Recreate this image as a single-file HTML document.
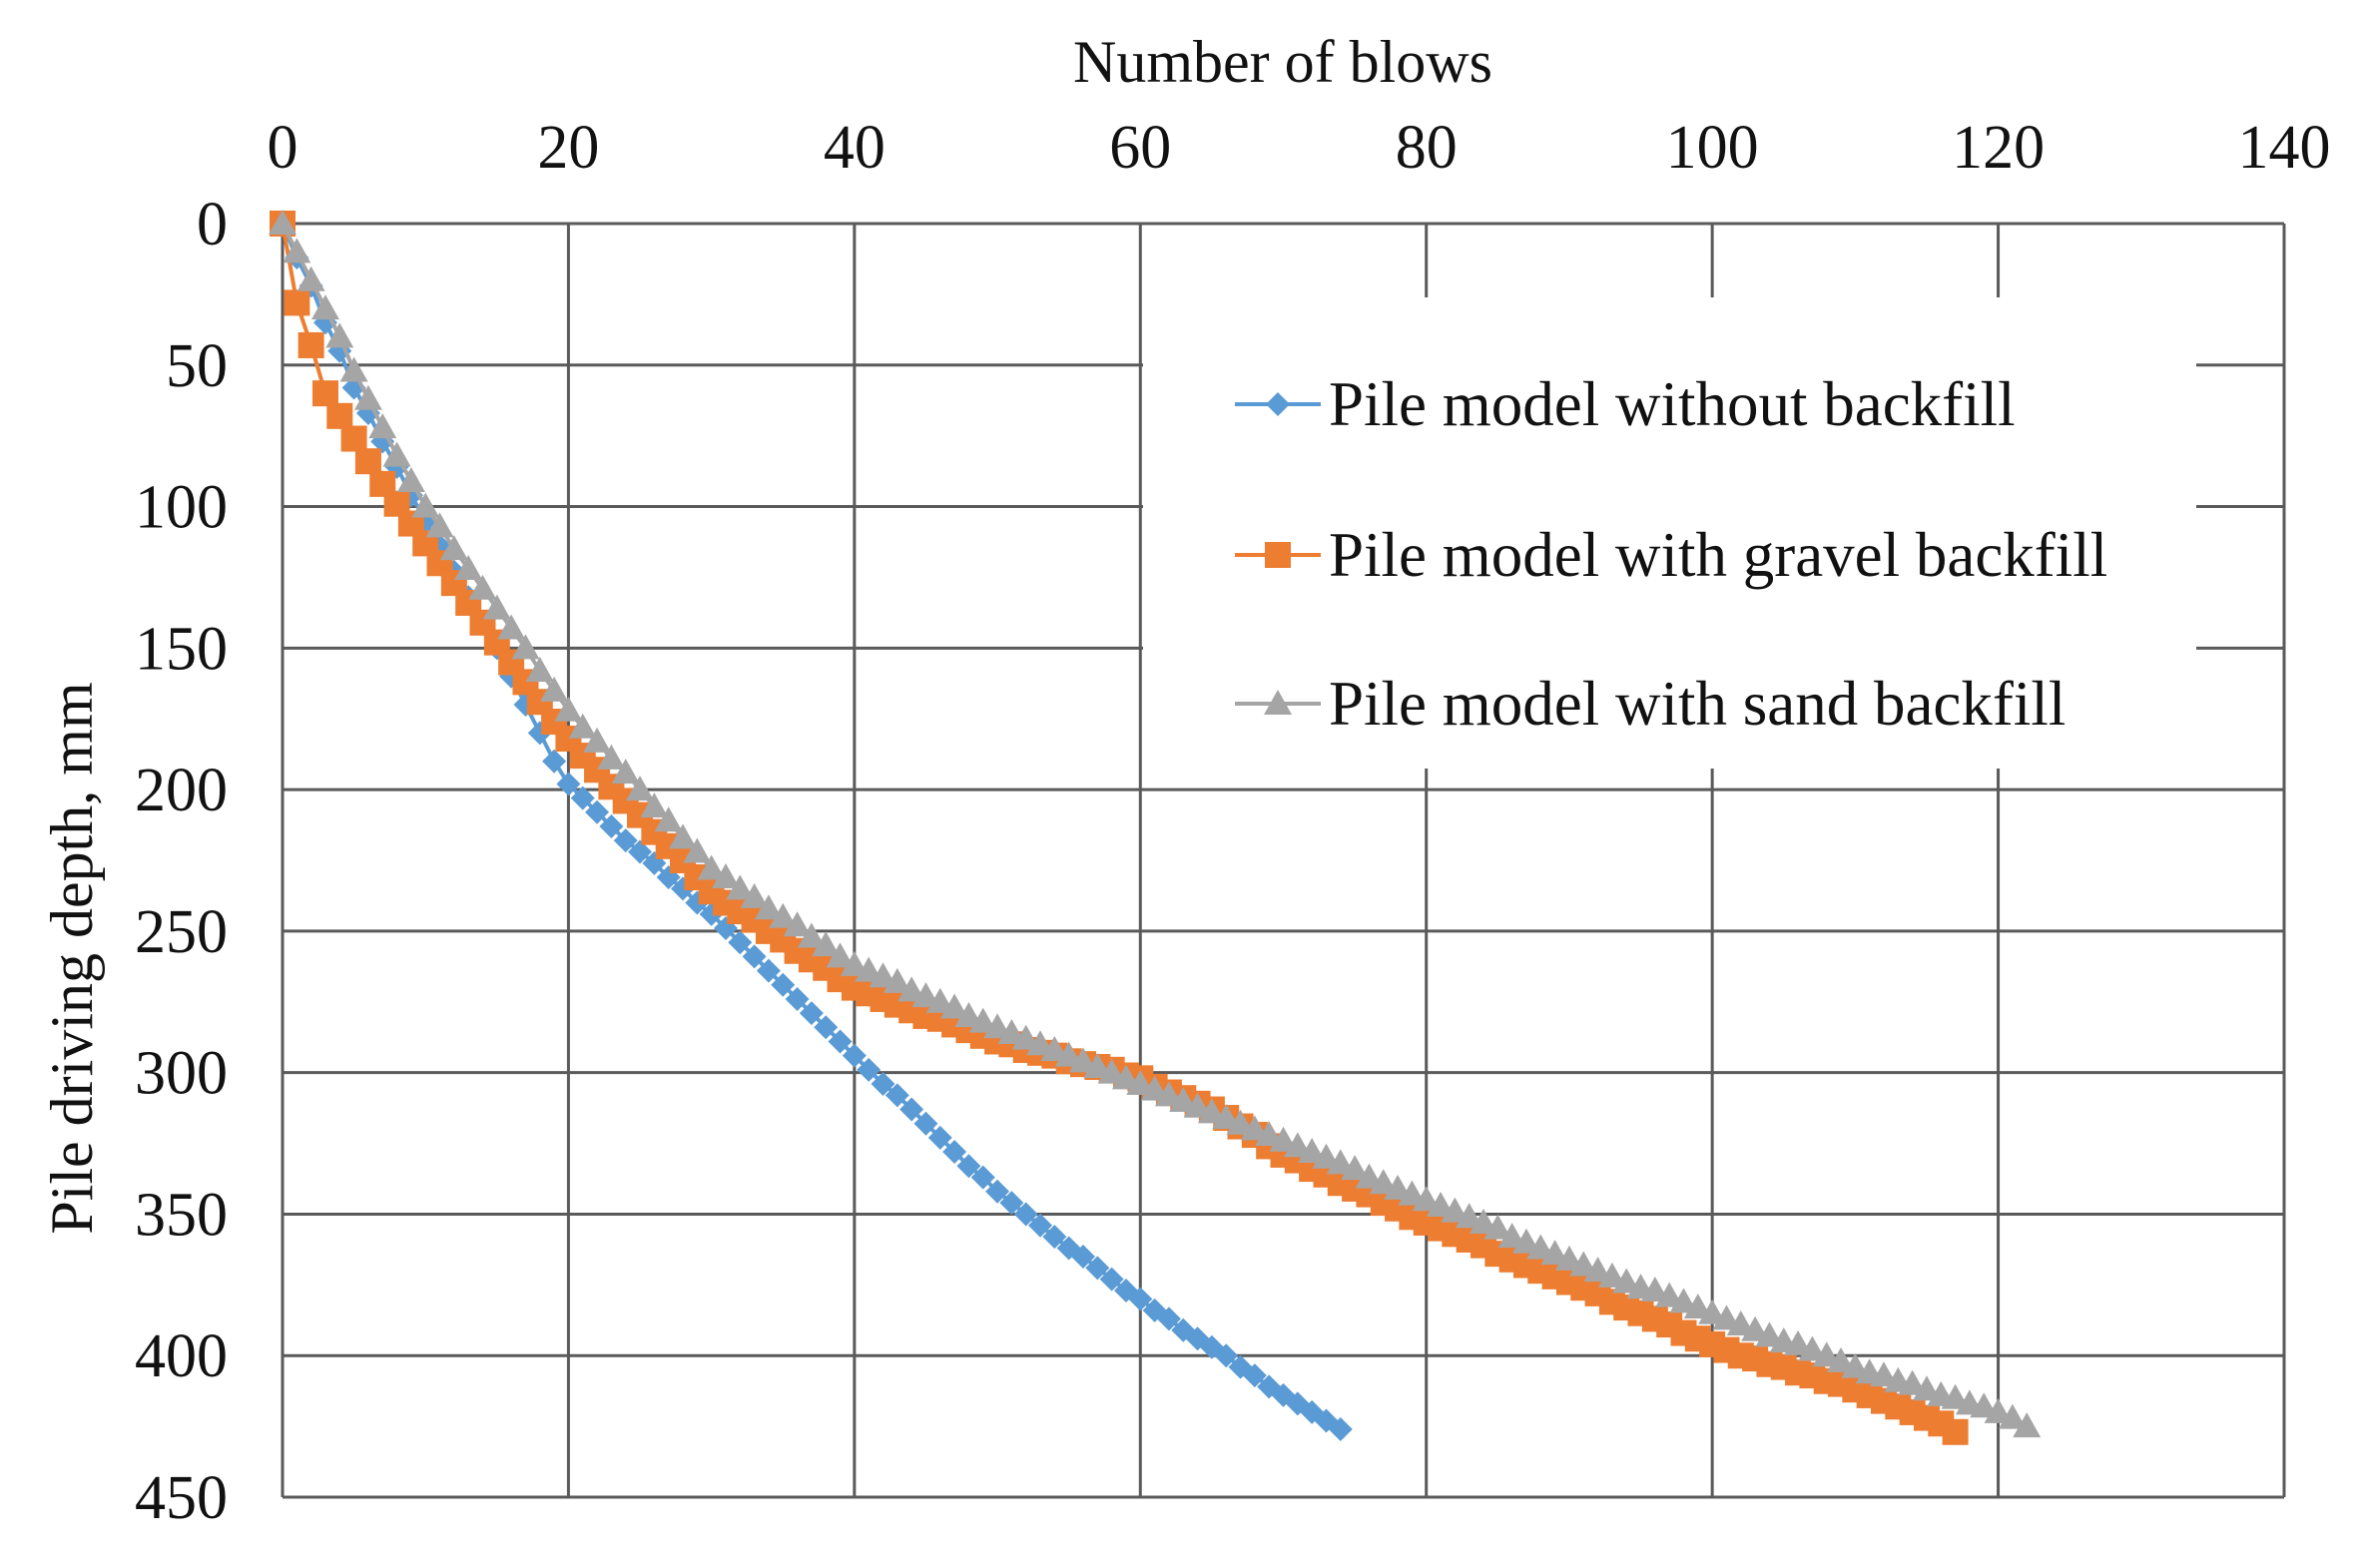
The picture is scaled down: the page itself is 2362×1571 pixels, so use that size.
<!DOCTYPE html>
<html><head><meta charset="utf-8"><style>
html,body{margin:0;padding:0;background:#fff}
svg{display:block;font-family:"Liberation Serif",serif}
</style></head><body>
<svg id="chart" width="2362" height="1571" viewBox="0 0 2362 1571" xmlns="http://www.w3.org/2000/svg">
<rect x="0" y="0" width="2362" height="1571" fill="#fff"/>
<g id="grid"></g>
<g id="xticks"></g>
<g id="yticks"></g>
<text x="1285" y="82" font-size="60" text-anchor="middle" fill="#111">Number of blows</text>
<text transform="translate(92,960) rotate(-90)" font-size="60" text-anchor="middle" fill="#111">Pile driving depth, mm</text>
<g id="series"></g>
<g id="legend"></g>
</svg>
<script>
const xTicks=[0,20,40,60,80,100,120,140];
const yTicks=[0,50,100,150,200,250,300,350,400,450];
const seriesNames=["Pile model without backfill","Pile model with gravel backfill","Pile model with sand backfill"];
const blueDepth=[0,12,22,35,45,58,67,77,86,96,105,114,123,132,141,150,160,170,180,190,198,203,208,213,218,222,226,231,235,240,244,249,254,259,264,269,274,279,284,289,294,299,304,308,313,318,323,328,333,337,342,346,350,354,358,362,365,369,373,377,380,384,387,391,394,397,400,404,407,411,414,417,420,423,426];
const orangeDepth=[0,28,43,60,68,76,84,92,99,106,113,120,127,134,141,148,155,162,169,176,182,188,193,199,204,209,215,220,225,231,236,240,243,246,250,253,257,260,263,267,270,272,274,276,278,280,281,283,285,287,289,290,292,293,294,296,297,298,299,301,302,305,307,309,311,313,316,319,322,326,329,331,334,336,339,341,343,346,348,351,353,355,357,359,361,364,366,368,370,372,374,376,378,381,383,385,387,389,392,394,396,398,400,401,403,404,406,407,409,410,412,414,416,418,420,422,424,427];
const grayDepth=[0,10,20,30,40,52,62,72,82,91,100,107,115,122,129,136,143,150,158,165,172,178,183,189,194,200,206,211,217,222,228,231,235,238,242,245,248,252,255,259,262,264,266,268,271,273,275,277,280,282,284,286,288,290,292,294,296,298,300,302,304,306,308,310,312,314,316,318,320,322,324,326,328,330,332,334,337,339,341,343,345,347,349,351,353,355,358,360,362,364,366,368,370,372,374,376,377,379,381,383,385,387,389,391,393,395,396,398,400,402,404,406,407,409,410,412,414,415,417,418,420,422,425];

const L=283,R=2288,T=224,B=1500;
const sx=v=>L+(v-0)/(140-0)*(R-L);
const sy=v=>T+(v-0)/(450-0)*(B-T);
const NS="http://www.w3.org/2000/svg";
function mk(tag,attrs,parent){const e=document.createElementNS(NS,tag);for(const k in attrs)e.setAttribute(k,attrs[k]);parent.appendChild(e);return e;}
const grid=document.getElementById('grid'),xg=document.getElementById('xticks'),yg=document.getElementById('yticks');
xTicks.forEach(t=>{
  const l=mk('line',{x1:sx(t),x2:sx(t),y1:T,y2:B,stroke:'#5a5a5a','stroke-width':3},grid);
  
  
  const tx=mk('text',{x:sx(t),y:168,'font-size':62,'text-anchor':'middle',fill:'#111'},xg);
  tx.textContent=t;
  
  
});
yTicks.forEach(t=>{
  const l=mk('line',{x1:L,x2:R,y1:sy(t),y2:sy(t),stroke:'#5a5a5a','stroke-width':3},grid);
  
  
  const tx=mk('text',{x:228,y:sy(t)+21,'font-size':62,'text-anchor':'end',fill:'#111'},yg);
  tx.textContent=t;
  
  
});
const sg=document.getElementById('series');
function marker(type,x,y,color,parent){
  let e;
  if(type==='diamond'){e=mk('polygon',{points:`${x},${y-12} ${x+12},${y} ${x},${y+12} ${x-12},${y}`,fill:color},parent);}
  else if(type==='square'){e=mk('rect',{x:x-13,y:y-13,width:26,height:26,fill:color},parent);}
  else {e=mk('polygon',{points:`${x},${y-14} ${x+14},${y+11} ${x-14},${y+11}`,fill:color},parent);}
  return e;
}
function drawSeries(data,color,type,name){
  const g=mk('g',{},sg);
  
  
  const pts=data.map((d,i)=>sx(i)+','+sy(d)).join(' ');
  mk('polyline',{points:pts,fill:'none',stroke:color,'stroke-width':4},g);
  data.forEach((d,i)=>{
    const m=marker(type,sx(i),sy(d),color,g);
    
    
  });
}
drawSeries(blueDepth,'#5B9BD5','diamond','series-without-backfill');
drawSeries(orangeDepth,'#ED7D31','square','series-gravel-backfill');
drawSeries(grayDepth,'#A5A5A5','triangle','series-sand-backfill');

const lg=document.getElementById('legend');
const bg=mk('rect',{x:1145,y:298,width:1055,height:472,fill:'#fff'},lg);


const colors=['#5B9BD5','#ED7D31','#A5A5A5'],types=['diamond','square','triangle'],ly=[405,556,705];
seriesNames.forEach((n,i)=>{
  const g=mk('g',{},lg);
  
  
  mk('line',{x1:1237,x2:1323,y1:ly[i],y2:ly[i],stroke:colors[i],'stroke-width':4},g);
  marker(types[i],1280,ly[i],colors[i],g);
  const t=mk('text',{x:1331,y:ly[i]+21,'font-size':63,fill:'#111'},g);
  t.textContent=n;
});
</script>
</body></html>
